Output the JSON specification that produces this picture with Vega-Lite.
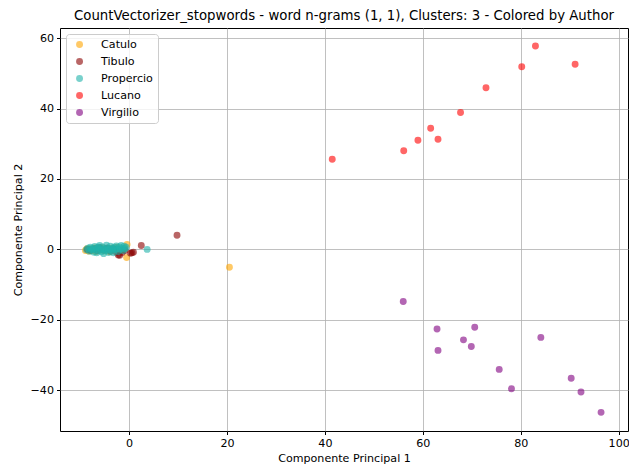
{
  "$schema": "https://vega.github.io/schema/vega-lite/v6.json",
  "width": 568,
  "height": 403,
  "autosize": "none",
  "padding": {"left": 60, "top": 28, "right": 1, "bottom": 37},
  "background": "white",
  "title": {
    "text": "CountVectorizer_stopwords - word n-grams (1, 1), Clusters: 3 - Colored by Author",
    "font": "DejaVu Sans",
    "fontSize": 13.3,
    "fontWeight": "normal",
    "color": "black",
    "anchor": "middle",
    "offset": 6
  },
  "config": {
    "view": {"stroke": "black", "strokeWidth": 1},
    "axis": {
      "labelFont": "DejaVu Sans",
      "labelFontSize": 11.1,
      "labelColor": "black",
      "titleFont": "DejaVu Sans",
      "titleFontSize": 11.1,
      "titleFontWeight": "normal",
      "titleColor": "black",
      "tickColor": "black",
      "tickSize": 3.5,
      "labelPadding": 3,
      "domain": false,
      "gridColor": "#b0b0b0",
      "gridWidth": 0.8,
      "gridOpacity": 1
    }
  },
  "data": {
    "values": [
      {"author": "Catulo", "pc1": -8.9, "pc2": -0.3},
      {"author": "Catulo", "pc1": -8.6, "pc2": 0.2},
      {"author": "Catulo", "pc1": -8.2, "pc2": -0.5},
      {"author": "Catulo", "pc1": -7.8, "pc2": 0.1},
      {"author": "Catulo", "pc1": -7.5, "pc2": -0.3},
      {"author": "Catulo", "pc1": -7.0, "pc2": 0.4},
      {"author": "Catulo", "pc1": -6.8, "pc2": -0.6},
      {"author": "Catulo", "pc1": -6.2, "pc2": 0.2},
      {"author": "Catulo", "pc1": -5.9, "pc2": -0.2},
      {"author": "Catulo", "pc1": -5.5, "pc2": 0.5},
      {"author": "Catulo", "pc1": -5.0, "pc2": -0.4},
      {"author": "Catulo", "pc1": -4.6, "pc2": 0.1},
      {"author": "Catulo", "pc1": -4.0, "pc2": -0.7},
      {"author": "Catulo", "pc1": -3.5, "pc2": 0.3},
      {"author": "Catulo", "pc1": -3.0, "pc2": -0.2},
      {"author": "Catulo", "pc1": -2.5, "pc2": 0.6},
      {"author": "Catulo", "pc1": -1.8, "pc2": -0.3},
      {"author": "Catulo", "pc1": -1.0, "pc2": 0.2},
      {"author": "Catulo", "pc1": -0.4, "pc2": 1.4},
      {"author": "Catulo", "pc1": -0.5, "pc2": -2.3},
      {"author": "Catulo", "pc1": 20.5, "pc2": -5.1},
      {"author": "Tibulo", "pc1": -8.5, "pc2": 0.0},
      {"author": "Tibulo", "pc1": -7.9, "pc2": -0.3},
      {"author": "Tibulo", "pc1": -7.0, "pc2": 0.2},
      {"author": "Tibulo", "pc1": -6.5, "pc2": -0.4},
      {"author": "Tibulo", "pc1": -6.0, "pc2": 0.5},
      {"author": "Tibulo", "pc1": -5.2, "pc2": -0.2},
      {"author": "Tibulo", "pc1": -4.5, "pc2": 0.3},
      {"author": "Tibulo", "pc1": -3.8, "pc2": -0.5},
      {"author": "Tibulo", "pc1": -3.2, "pc2": 0.1},
      {"author": "Tibulo", "pc1": -2.6, "pc2": -0.8},
      {"author": "Tibulo", "pc1": -2.2, "pc2": -1.6},
      {"author": "Tibulo", "pc1": -1.9, "pc2": -1.7},
      {"author": "Tibulo", "pc1": -1.4, "pc2": -0.9},
      {"author": "Tibulo", "pc1": -0.8, "pc2": -0.3},
      {"author": "Tibulo", "pc1": 0.3, "pc2": -1.1},
      {"author": "Tibulo", "pc1": 0.6, "pc2": -1.0},
      {"author": "Tibulo", "pc1": 0.9, "pc2": -0.8},
      {"author": "Tibulo", "pc1": 2.5, "pc2": 1.1},
      {"author": "Tibulo", "pc1": 9.8, "pc2": 4.0},
      {"author": "Propercio", "pc1": -8.7, "pc2": -0.1},
      {"author": "Propercio", "pc1": -8.4, "pc2": 0.3},
      {"author": "Propercio", "pc1": -8.1, "pc2": -0.5},
      {"author": "Propercio", "pc1": -7.9, "pc2": 0.6},
      {"author": "Propercio", "pc1": -7.7, "pc2": -0.2},
      {"author": "Propercio", "pc1": -7.4, "pc2": 0.3},
      {"author": "Propercio", "pc1": -7.2, "pc2": -0.8},
      {"author": "Propercio", "pc1": -7.0, "pc2": 0.8},
      {"author": "Propercio", "pc1": -6.8, "pc2": 0.0},
      {"author": "Propercio", "pc1": -6.6, "pc2": -1.0},
      {"author": "Propercio", "pc1": -6.4, "pc2": 0.5},
      {"author": "Propercio", "pc1": -6.2, "pc2": -0.4},
      {"author": "Propercio", "pc1": -6.0, "pc2": 1.1},
      {"author": "Propercio", "pc1": -5.8, "pc2": 0.1},
      {"author": "Propercio", "pc1": -5.6, "pc2": -0.7},
      {"author": "Propercio", "pc1": -5.4, "pc2": 0.7},
      {"author": "Propercio", "pc1": -5.2, "pc2": -1.2},
      {"author": "Propercio", "pc1": -5.0, "pc2": 0.2},
      {"author": "Propercio", "pc1": -4.8, "pc2": -0.4},
      {"author": "Propercio", "pc1": -4.6, "pc2": 1.2},
      {"author": "Propercio", "pc1": -4.4, "pc2": 0.4},
      {"author": "Propercio", "pc1": -4.2, "pc2": -0.9},
      {"author": "Propercio", "pc1": -4.0, "pc2": 0.1},
      {"author": "Propercio", "pc1": -3.8, "pc2": 0.9},
      {"author": "Propercio", "pc1": -3.6, "pc2": -0.5},
      {"author": "Propercio", "pc1": -3.4, "pc2": 0.3},
      {"author": "Propercio", "pc1": -3.2, "pc2": -1.0},
      {"author": "Propercio", "pc1": -3.0, "pc2": 0.6},
      {"author": "Propercio", "pc1": -2.8, "pc2": -0.1},
      {"author": "Propercio", "pc1": -2.6, "pc2": 1.0},
      {"author": "Propercio", "pc1": -2.4, "pc2": 0.2},
      {"author": "Propercio", "pc1": -2.2, "pc2": -0.6},
      {"author": "Propercio", "pc1": -2.0, "pc2": 0.7},
      {"author": "Propercio", "pc1": -1.8, "pc2": 0.0},
      {"author": "Propercio", "pc1": -1.6, "pc2": 1.1},
      {"author": "Propercio", "pc1": -1.4, "pc2": 0.3},
      {"author": "Propercio", "pc1": -1.2, "pc2": -0.3},
      {"author": "Propercio", "pc1": -1.0, "pc2": 0.9},
      {"author": "Propercio", "pc1": -0.8, "pc2": 0.2},
      {"author": "Propercio", "pc1": -0.6, "pc2": 0.6},
      {"author": "Propercio", "pc1": -6.3, "pc2": 0.6},
      {"author": "Propercio", "pc1": -5.3, "pc2": -0.1},
      {"author": "Propercio", "pc1": -4.3, "pc2": -0.2},
      {"author": "Propercio", "pc1": -3.3, "pc2": 0.0},
      {"author": "Propercio", "pc1": -7.5, "pc2": 0.0},
      {"author": "Propercio", "pc1": 3.7, "pc2": 0.0},
      {"author": "Lucano", "pc1": 41.5, "pc2": 25.6},
      {"author": "Lucano", "pc1": 56.1, "pc2": 28.0},
      {"author": "Lucano", "pc1": 59.0, "pc2": 31.0},
      {"author": "Lucano", "pc1": 61.6, "pc2": 34.4},
      {"author": "Lucano", "pc1": 63.1, "pc2": 31.3},
      {"author": "Lucano", "pc1": 67.7, "pc2": 38.9},
      {"author": "Lucano", "pc1": 72.9, "pc2": 45.9},
      {"author": "Lucano", "pc1": 80.2, "pc2": 51.9},
      {"author": "Lucano", "pc1": 83.0, "pc2": 57.8},
      {"author": "Lucano", "pc1": 91.1, "pc2": 52.6},
      {"author": "Virgilio", "pc1": 56.0, "pc2": -14.8},
      {"author": "Virgilio", "pc1": 62.9, "pc2": -22.6},
      {"author": "Virgilio", "pc1": 70.6, "pc2": -22.1},
      {"author": "Virgilio", "pc1": 68.3, "pc2": -25.7},
      {"author": "Virgilio", "pc1": 69.9, "pc2": -27.6},
      {"author": "Virgilio", "pc1": 63.1, "pc2": -28.7},
      {"author": "Virgilio", "pc1": 84.1, "pc2": -25.0},
      {"author": "Virgilio", "pc1": 75.6, "pc2": -34.1},
      {"author": "Virgilio", "pc1": 78.1, "pc2": -39.6},
      {"author": "Virgilio", "pc1": 90.3, "pc2": -36.6},
      {"author": "Virgilio", "pc1": 92.3, "pc2": -40.5},
      {"author": "Virgilio", "pc1": 96.4, "pc2": -46.3}
    ]
  },
  "mark": {"type": "circle", "size": 48, "opacity": 0.6},
  "encoding": {
    "x": {
      "field": "pc1",
      "type": "quantitative",
      "scale": {"domain": [-14.1, 101.9], "nice": false, "zero": false},
      "axis": {
        "title": "Componente Principal 1",
        "values": [0, 20, 40, 60, 80, 100],
        "titlePadding": 4,
        "labelExpr": "replace(datum.label, '-', '\u2212')"
      }
    },
    "y": {
      "field": "pc2",
      "type": "quantitative",
      "scale": {"domain": [-51.6, 62.9], "nice": false, "zero": false},
      "axis": {
        "title": "Componente Principal 2",
        "values": [-40, -20, 0, 20, 40, 60],
        "titlePadding": 7,
        "labelExpr": "replace(datum.label, '-', '\u2212')"
      }
    },
    "color": {
      "field": "author",
      "type": "nominal",
      "scale": {
        "domain": ["Catulo", "Tibulo", "Propercio", "Lucano", "Virgilio"],
        "range": ["#FFA500", "#8B0000", "#20B2AA", "#FF0000", "#800080"]
      },
      "legend": {
        "title": null,
        "orient": "none",
        "legendX": 6,
        "legendY": 6,
        "fillColor": "rgba(255,255,255,0.8)",
        "strokeColor": "#cccccc",
        "cornerRadius": 3,
        "padding": 5,
        "rowPadding": 5,
        "symbolType": "circle",
        "symbolSize": 48,
        "symbolOpacity": 0.6,
        "symbolStrokeWidth": 0,
        "labelFont": "DejaVu Sans",
        "labelFontSize": 11.1,
        "labelColor": "black",
        "labelOffset": 16,
        "symbolOffset": 3
      }
    }
  }
}
